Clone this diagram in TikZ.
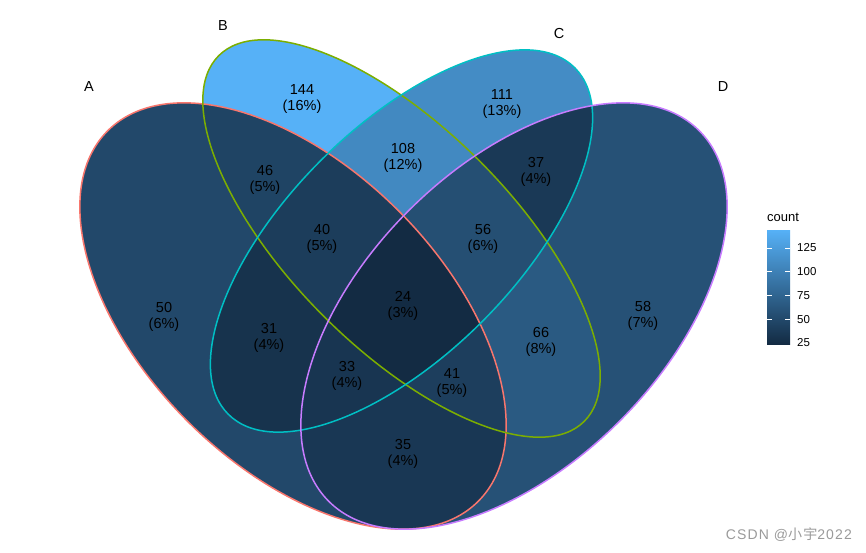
\documentclass[tikz,border=0pt]{standalone}
\usepackage{fontspec}
\setmainfont{Liberation Sans}
\newfontfamily\cjkfont{Noto Sans CJK SC}
\newfontfamily\wmfont[LetterSpace=8]{Liberation Sans}
\newfontfamily\wmcjk[LetterSpace=8]{Noto Sans CJK SC}
\definecolor{lo}{HTML}{132B43}
\definecolor{hi}{HTML}{56B1F7}
\definecolor{colA}{HTML}{F8766D}
\definecolor{colB}{HTML}{7CAE00}
\definecolor{colC}{HTML}{00BFC4}
\definecolor{colD}{HTML}{C77CFF}
\definecolor{wm}{HTML}{9A9A9A}
\colorlet{cA}{hi!21.7!lo}
\colorlet{cB}{hi!100!lo}
\colorlet{cC}{hi!72.5!lo}
\colorlet{cD}{hi!28.3!lo}
\colorlet{cAB}{hi!18.3!lo}
\colorlet{cBC}{hi!70!lo}
\colorlet{cCD}{hi!10.8!lo}
\colorlet{cAC}{hi!5.8!lo}
\colorlet{cBD}{hi!35!lo}
\colorlet{cAD}{hi!9.2!lo}
\colorlet{cABC}{hi!13.3!lo}
\colorlet{cBCD}{hi!26.7!lo}
\colorlet{cACD}{hi!7.5!lo}
\colorlet{cABD}{hi!14.2!lo}
\colorlet{cABCD}{lo}
\newcommand\shpA[1]{\path[#1,rotate around={-45:(293,316)}] (293,316) ellipse (262 and 149);}
\newcommand\shpB[1]{\path[#1,rotate around={-45:(401.5,238.5)}] (401.5,238.5) ellipse (258.5 and 110);}
\newcommand\shpC[1]{\path[#1,rotate around={45:(401.5,241)}] (401.5,241) ellipse (245 and 114);}
\newcommand\shpD[1]{\path[#1,rotate around={45:(514,316)}] (514,316) ellipse (262 and 149);}
\begin{document}
\begin{tikzpicture}[x=1pt,y=-1pt,
  lbl/.style={font=\fontsize{14.5}{16.5}\selectfont, align=center, text=black, inner sep=0pt},
  setlbl/.style={font=\fontsize{14.5}{17}\selectfont, inner sep=0pt},
  ticklbl/.style={font=\fontsize{11.5}{13}\selectfont, anchor=west, inner sep=0pt},
  outl/.style={line width=1.5pt},
  tickln/.style={white, line width=0.9pt}]
\useasboundingbox (0,0) rectangle (866,553);
% singles
\shpA{fill=cA}
\shpB{fill=cB}
\shpC{fill=cC}
\shpD{fill=cD}
% pairs
\begin{scope}\shpA{clip}\shpB{fill=cAB}\end{scope}
\begin{scope}\shpA{clip}\shpC{fill=cAC}\end{scope}
\begin{scope}\shpA{clip}\shpD{fill=cAD}\end{scope}
\begin{scope}\shpB{clip}\shpC{fill=cBC}\end{scope}
\begin{scope}\shpB{clip}\shpD{fill=cBD}\end{scope}
\begin{scope}\shpC{clip}\shpD{fill=cCD}\end{scope}
% triples
\begin{scope}\shpA{clip}\shpB{clip}\shpC{fill=cABC}\end{scope}
\begin{scope}\shpA{clip}\shpB{clip}\shpD{fill=cABD}\end{scope}
\begin{scope}\shpA{clip}\shpC{clip}\shpD{fill=cACD}\end{scope}
\begin{scope}\shpB{clip}\shpC{clip}\shpD{fill=cBCD}\end{scope}
% quad
\begin{scope}\shpA{clip}\shpB{clip}\shpC{clip}\shpD{fill=cABCD}\end{scope}
% outlines
\shpA{draw=colA,outl}
\shpB{draw=colB,outl}
\shpC{draw=colC,outl}
\shpD{draw=colD,outl}
% region labels
\node[lbl] (rB) at (302,99) {144\\(16\%)};
\node[lbl] (rC) at (502,104) {111\\(13\%)};
\node[lbl] (rBC) at (403,158) {108\\(12\%)};
\node[lbl] (rAB) at (265,180) {46\\(5\%)};
\node[lbl] (rCD) at (536,172) {37\\(4\%)};
\node[lbl] (rABC) at (322,239) {40\\(5\%)};
\node[lbl] (rBCD) at (483,239) {56\\(6\%)};
\node[lbl] (rA) at (164,317) {50\\(6\%)};
\node[lbl] (rD) at (643,316) {58\\(7\%)};
\node[lbl] (rABCD) at (403,306) {24\\(3\%)};
\node[lbl] (rAC) at (269,338) {31\\(4\%)};
\node[lbl] (rBD) at (541,342) {66\\(8\%)};
\node[lbl] (rACD) at (347,376) {33\\(4\%)};
\node[lbl] (rABD) at (452,383) {41\\(5\%)};
\node[lbl] (rAD) at (403,454) {35\\(4\%)};
% set labels
\node[setlbl] (lA) at (89,87) {A};
\node[setlbl] (lB) at (223,26) {B};
\node[setlbl] (lC) at (559,34) {C};
\node[setlbl] (lD) at (723,87) {D};
% legend
\node[font=\fontsize{13}{15}\selectfont, anchor=west, inner sep=0pt] (cnt) at (767,217) {count};
\shade[bottom color=lo, top color=hi] (767,230) rectangle (790,344);
\foreach \yy in {248,271.8,295.5,319.3} {
  \draw[tickln] (767,\yy) -- (772,\yy);
  \draw[tickln] (785,\yy) -- (790,\yy);
}
\node[ticklbl] (t125) at (797,248) {125};
\node[ticklbl] (t100) at (797,271.8) {100};
\node[ticklbl] (t75) at (797,295.5) {75};
\node[ticklbl] (t50) at (797,319.3) {50};
\node[ticklbl] (t25) at (797,343) {25};
% watermark
\node[font=\fontsize{14}{16}\selectfont, text=wm, anchor=east, inner sep=0pt] (wmk) at (852,535) {\wmfont CSDN @\wmcjk 小宇\wmfont 2022};
\end{tikzpicture}
\end{document}
